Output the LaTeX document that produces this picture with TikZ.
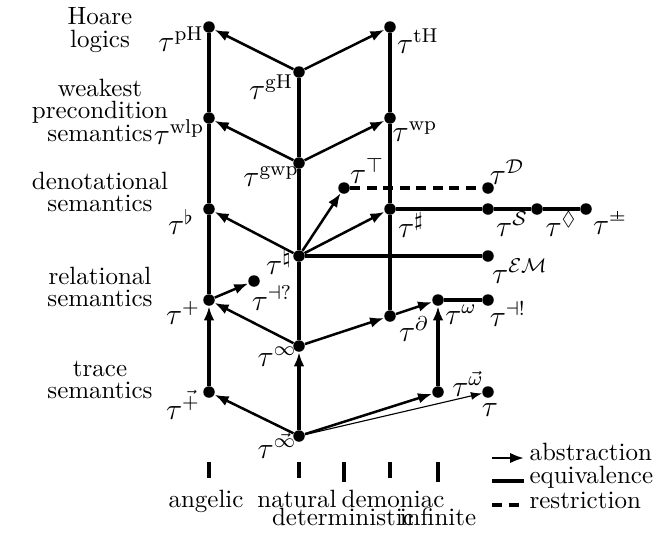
\documentclass[tikz,border=0pt]{standalone}
\usepackage{amssymb}
\usetikzlibrary{arrows.meta}
\newcommand{\eqtick}{\mathrel{\ooalign{$\scriptstyle=$\cr\hidewidth\rule[0.35ex]{0.4pt}{0.6ex}\hidewidth\cr}}}
\begin{document}
\begin{tikzpicture}[
  x=0.4pt, y=-0.4pt,
  dot/.style={circle, fill, inner sep=0pt, minimum size=4.6pt},
  equiv/.style={line width=1.4pt},
  arrow/.style={-{Latex[length=5.6pt,width=4.2pt]}, line width=1pt},
  uparrow/.style={-{Latex[length=5.6pt,width=4.2pt]}, line width=1.4pt},
  thinarrow/.style={-{Latex[length=4.4pt,width=3.2pt]}, line width=0.45pt},
  restrict/.style={line width=1.4pt, dash pattern=on 4pt off 2.6pt},
  tlab/.style={font=\large, inner sep=0pt},
  rowlab/.style={align=center, font=\fontsize{10}{9}\selectfont, inner sep=0pt},
  collab/.style={anchor=base, inner sep=0pt},
  leglab/.style={anchor=west, inner sep=0pt}
]
\useasboundingbox (0,0) rectangle (653,534);
% semantic levels
\node[rowlab] (hoare) at (100,30) {Hoare\\logics};
\node[rowlab] (wpsem) at (100,110) {weakest\\precondition\\semantics};
\node[rowlab] (densem) at (100,192) {denotational\\semantics};
\node[rowlab] (relsem) at (100,287) {relational\\semantics};
\node[rowlab] (trsem) at (100,380) {trace\\semantics};
% points
\node[dot] (pH) at (209,27) {};
\node[dot] (tH) at (390,27) {};
\node[dot] (gH) at (299,72) {};
\node[dot] (wlp) at (209,118) {};
\node[dot] (wp) at (390,118) {};
\node[dot] (gwp) at (299,163) {};
\node[dot] (top) at (344,188) {};
\node[dot] (D) at (488,188) {};
\node[dot] (flat) at (209,209) {};
\node[dot] (sharp) at (390,209) {};
\node[dot] (S) at (488,209) {};
\node[dot] (dia) at (537,209) {};
\node[dot] (eqt) at (586,209) {};
\node[dot] (nat) at (299,256) {};
\node[dot] (EM) at (488,256) {};
\node[dot] (dq) at (254,281) {};
\node[dot] (plus) at (209,300) {};
\node[dot] (omega) at (438,300) {};
\node[dot] (dex) at (488,300) {};
\node[dot] (part) at (390,316) {};
\node[dot] (inf) at (299,346) {};
\node[dot] (vplus) at (209,392) {};
\node[dot] (vomega) at (438,392) {};
\node[dot] (tau) at (488,392) {};
\node[dot] (vinf) at (299,436) {};
% names
\node[tlab] (lpH) at (181,39) {$\tau^{\mathrm{pH}}$};
\node[tlab] (ltH) at (418,41) {$\tau^{\mathrm{tH}}$};
\node[tlab] (lgH) at (271,87) {$\tau^{\mathrm{gH}}$};
\node[tlab] (lwlp) at (179,132) {$\tau^{\mathrm{wlp}}$};
\node[tlab] (lwp) at (415,132) {$\tau^{\mathrm{wp}}$};
\node[tlab] (lgwp) at (271,177) {$\tau^{\mathrm{gwp}}$};
\node[tlab] (ltop) at (367,171) {$\tau^{\top}$};
\node[tlab] (lD) at (507,172) {$\tau^{\mathcal{D}}$};
\node[tlab] (lflat) at (181,222) {$\tau^{\flat}$};
\node[tlab] (lsharp) at (411,225) {$\tau^{\sharp}$};
\node[tlab] (lS) at (512,224) {$\tau^{\mathcal{S}}$};
\node[tlab] (ldia) at (561,224) {$\tau^{\Diamond}$};
\node[tlab] (leqt) at (610,225) {$\tau^{\eqtick}$};
\node[tlab] (lnat) at (279,262) {$\tau^{\natural}$};
\node[tlab] (lEM) at (520,271) {$\tau^{\mathcal{E}\mathcal{M}}$};
\node[tlab] (ldq) at (272,298) {$\tau^{\dashv ?}$};
\node[tlab] (lplus) at (183,313) {$\tau^{+}$};
\node[tlab] (lomega) at (461,315) {$\tau^{\omega}$};
\node[tlab] (ldex) at (508,314) {$\tau^{\dashv !}$};
\node[tlab] (lpart) at (414,329) {$\tau^{\partial}$};
\node[tlab] (linf) at (277,357) {$\tau^{\infty}$};
\node[tlab] (lvplus) at (183,405) {$\tau^{\vec{+}}$};
\node[tlab] (lvomega) at (468,384) {$\tau^{\vec{\omega}}$};
\node[tlab] (ltau) at (490,410) {$\tau$};
\node[tlab] (lvinf) at (277,446) {$\tau^{\vec{\infty}}$};
% equivalences
\draw[equiv] (pH) -- (wlp) -- (flat) -- (plus);
\draw[equiv] (gH) -- (gwp) -- (nat) -- (inf);
\draw[equiv] (tH) -- (wp) -- (sharp) -- (part);
\draw[equiv] (nat) -- (EM);
\draw[equiv] (sharp) -- (S) -- (dia) -- (eqt);
\draw[equiv] (omega) -- (dex);
\draw[restrict] (top) -- (D);
% abstractions
\draw[uparrow] (vplus) -- (plus);
\draw[uparrow] (vinf) -- (inf);
\draw[uparrow] (vomega) -- (omega);
\draw[arrow] (gH) -- (pH);
\draw[arrow] (gH) -- (tH);
\draw[arrow] (gwp) -- (wlp);
\draw[arrow] (gwp) -- (wp);
\draw[arrow] (nat) -- (flat);
\draw[arrow] (nat) -- (top);
\draw[arrow] (nat) -- (sharp);
\draw[arrow] (plus) -- (dq);
\draw[arrow] (inf) -- (plus);
\draw[arrow] (inf) -- (part);
\draw[arrow] (part) -- (omega);
\draw[arrow] (vinf) -- (vplus);
\draw[arrow] (vinf) -- (vomega);
\draw[thinarrow] (vinf) -- (tau);
% choices
\foreach \x/\y in {209/478, 299/478, 344/482, 390/478, 438/482}
  \draw[line width=1.4pt] (\x,462) -- (\x,\y);
\node[collab] (angelic) at (206,507) {angelic};
\node[collab] (natural) at (297,507) {natural};
\node[collab] (demoniac) at (393,507) {demoniac};
\node[collab] (determ) at (343,525) {deterministic};
\node[collab] (infinite) at (438,525) {infinite};
% legend
\coordinate (a1) at (492,458);
\coordinate (a2) at (524,458);
\coordinate (e1) at (492,481);
\coordinate (e2) at (524,481);
\coordinate (r1) at (492,505);
\coordinate (r2) at (524,505);
\draw[arrow] (a1) -- (a2);
\draw[equiv] (e1) -- (e2);
\draw[restrict] (r1) -- (r2);
\node[leglab] (labs) at (529,452) {abstraction};
\node[leglab] (lequ) at (529,477) {equivalence};
\node[leglab] (lres) at (529,500) {restriction};
\end{tikzpicture}
\end{document}
